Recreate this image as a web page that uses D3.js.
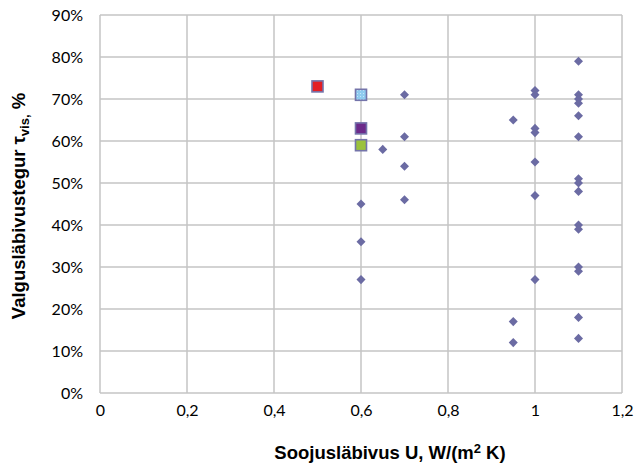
<!DOCTYPE html>
<meta charset="utf-8">
<style>
  body { margin: 0; background: #fff; }
  text { font-family: Lato, "Open Sans", sans-serif; }
</style>
<svg width="634" height="463"></svg>
<script src="https://cdn.jsdelivr.net/npm/d3@7"></script>
<script>

// diamonds: U value and visible transmittance (%)
var diamondU = [0.6, 0.6, 0.6, 0.65, 0.7, 0.7, 0.7, 0.7, 0.95, 0.95, 0.95,
  1, 1, 1, 1, 1, 1, 1,
  1.1, 1.1, 1.1, 1.1, 1.1, 1.1, 1.1, 1.1, 1.1, 1.1, 1.1, 1.1, 1.1, 1.1, 1.1];
var diamondT = [45, 36, 27, 58, 71, 61, 54, 46, 65, 17, 12,
  72, 71, 63, 62, 55, 47, 27,
  79, 71, 70, 69, 66, 61, 51, 50, 48, 40, 39, 30, 29, 18, 13];

// highlighted squares
var squareU = [0.5, 0.6, 0.6, 0.6];
var squareT = [73, 71, 63, 59];
var squareColor = ["#e31e24", "#8fcbef", "#6c2a8a", "#9bc23c"];

var xTicks = [0, 0.2, 0.4, 0.6, 0.8, 1, 1.2];
var yTicks = [0, 10, 20, 30, 40, 50, 60, 70, 80, 90];

var svg = d3.select("svg"),
    plotL = 100, plotR = 622, plotT = 15, plotB = 393;

var x = d3.scaleLinear().domain([0, 1.2]).range([plotL, plotR]);
var y = d3.scaleLinear().domain([0, 90]).range([plotB, plotT]);

// grid
svg.append("g").selectAll("line").data(xTicks).enter().append("line")
    .attr("x1", d => x(d)).attr("x2", d => x(d))
    .attr("y1", plotT).attr("y2", plotB)
    .attr("stroke", "#c4c4c4").attr("stroke-width", 1.5);
svg.append("g").selectAll("line").data(yTicks).enter().append("line")
    .attr("x1", plotL).attr("x2", plotR)
    .attr("y1", d => y(d)).attr("y2", d => y(d))
    .attr("stroke", "#c4c4c4").attr("stroke-width", 1.5);

// axes (labels only)
var xAxis = svg.append("g").attr("transform", "translate(0," + plotB + ")")
    .call(d3.axisBottom(x).tickValues(xTicks).tickSize(0).tickPadding(12)
      .tickFormat(d => String(d).replace(".", ",")));
var yAxis = svg.append("g").attr("transform", "translate(" + plotL + ",0)")
    .call(d3.axisLeft(y).tickValues(yTicks).tickSize(0).tickPadding(17)
      .tickFormat(d => d + "%"));
[xAxis, yAxis].forEach(function(a) {
  a.select(".domain").remove();
  a.selectAll("text").attr("font-size", 16).attr("fill", "#000")
    .style("font-family", "Lato, sans-serif");
});

// diamonds
var diamonds = d3.range(diamondU.length);
svg.append("g").selectAll("path").data(diamonds).enter().append("path")
    .attr("transform", i => "translate(" + x(diamondU[i]) + "," + y(diamondT[i]) + ") rotate(45)")
    .attr("d", "M-3.2,-3.2H3.2V3.2H-3.2Z")
    .attr("fill", "#6b6ba3");

// pattern for the light blue square
var pat = svg.append("defs").append("pattern").attr("id", "dots")
    .attr("width", 3).attr("height", 3).attr("patternUnits", "userSpaceOnUse");
pat.append("rect").attr("width", 3).attr("height", 3).attr("fill", "#8fcbef");
pat.append("rect").attr("width", 1).attr("height", 1).attr("fill", "#c6e6f8");

var squares = d3.range(squareU.length);
svg.append("g").selectAll("rect").data(squares).enter().append("rect")
    .attr("x", i => x(squareU[i]) - 5.5).attr("y", i => y(squareT[i]) - 5.5)
    .attr("width", 11).attr("height", 11)
    .attr("fill", i => i === 1 ? "url(#dots)" : squareColor[i])
    .attr("stroke", "#7474aa").attr("stroke-width", 1.6);

// axis titles
var xt = svg.append("text").attr("x", 390).attr("y", 459)
    .attr("text-anchor", "middle").attr("font-size", 18.5).attr("font-weight", "bold")
    .style("font-family", "'Liberation Sans', Arial, sans-serif");
xt.append("tspan").text("Soojusläbivus U, W/(m");
xt.append("tspan").attr("dy", -6).attr("font-size", 13).text("2");
xt.append("tspan").attr("dy", 6).text(" K)");

var yt = svg.append("text").attr("transform", "translate(25,206) rotate(-90)")
    .attr("text-anchor", "middle").attr("font-size", 18.5).attr("font-weight", "bold")
    .style("font-family", "'Liberation Sans', Arial, sans-serif");
yt.append("tspan").text("Valgusläbivustegur  τ");
yt.append("tspan").attr("dy", 4).attr("font-size", 13).text("vis,");
yt.append("tspan").attr("dy", -4).text(" %");

</script>
